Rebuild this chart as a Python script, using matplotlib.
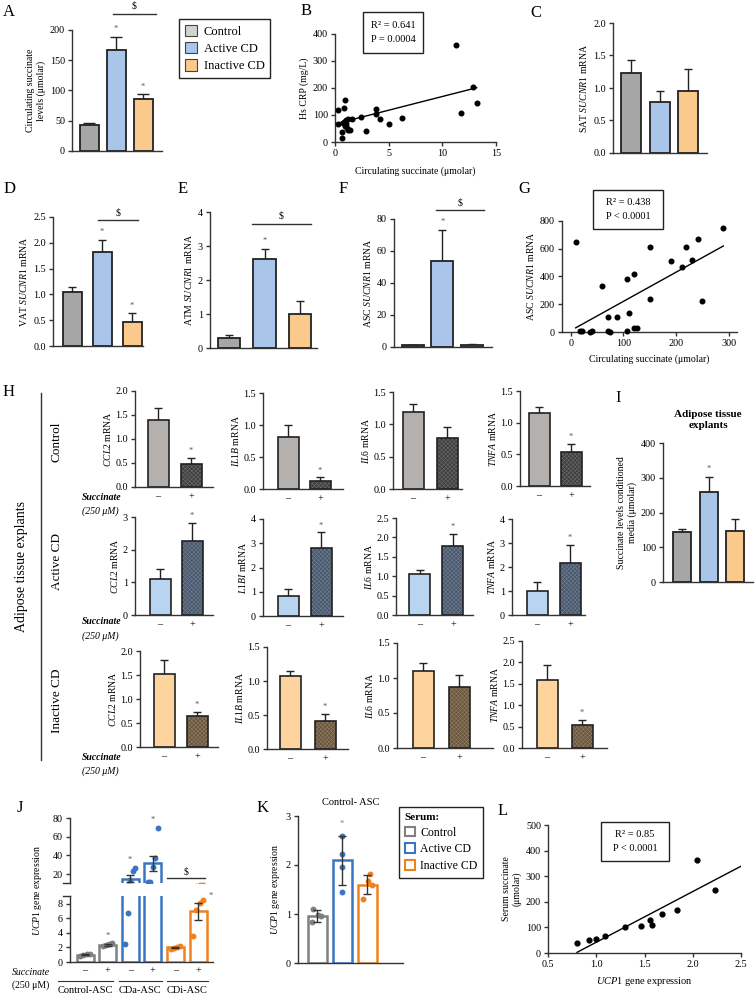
import numpy as np
import matplotlib
matplotlib.use('Agg')
import matplotlib.pyplot as plt
from matplotlib.patches import Patch, Rectangle
from matplotlib.lines import Line2D
from matplotlib.ticker import FormatStrFormatter

plt.rcParams['font.family'] = ['Liberation Serif', 'DejaVu Serif']
plt.rcParams['mathtext.fontset'] = 'custom'
plt.rcParams['mathtext.rm'] = 'Liberation Serif'
plt.rcParams['mathtext.it'] = 'Liberation Serif:italic'
plt.rcParams['mathtext.bf'] = 'Liberation Serif:bold'
plt.rcParams['font.size'] = 7
plt.rcParams['hatch.linewidth'] = 0.35
plt.rcParams['axes.linewidth'] = 1.0
plt.rcParams['axes.edgecolor'] = '#333333'

# ---------------- data ----------------
groups = ['Control', 'Active CD', 'Inactive CD']

a_mean = [43, 167, 86]
a_err = [3, 22, 8]

b_x = [0.3, 0.3, 0.65, 0.65, 0.7, 0.8, 0.9, 0.93, 1.0, 1.1, 1.2, 1.25, 1.4, 1.55,
       0.8, 1.0, 2.4, 2.9, 3.8, 3.8, 4.2, 5.0, 6.2, 11.7, 11.3, 12.85, 13.25]
b_y = [119, 68, 37, 16, 71, 126, 155, 58, 80, 50, 87, 43, 46, 84,
       75, 65, 93, 41, 121, 104, 85, 68, 89, 108, 359, 204, 145]
b_fit = [10.15, 67]          # slope, intercept
b_fit_range = [0.3, 13.2]

c_mean = [1.23, 0.78, 0.95]
c_err = [0.20, 0.17, 0.34]

d_mean = [1.05, 1.82, 0.46]
d_err = [0.09, 0.23, 0.17]

e_mean = [0.28, 2.62, 1.00]
e_err = [0.10, 0.28, 0.38]

f_mean = [1.0, 54, 1.5]
f_err = [0.5, 19, 0.5]

g_x = [9, 17, 21, 36, 40, 60, 70, 71, 74, 87, 107, 107, 111, 120, 120, 126,
       150, 150, 190, 211, 219, 230, 242, 250, 289]
g_y = [650, 5, 8, 3, 5, 330, 110, 5, 3, 105, 385, 8, 140, 420, 30, 30,
       615, 240, 510, 470, 610, 520, 670, 225, 750]
g_fit = [2.1, 11]
g_fit_range = [9, 290]

h_rows = ['Control', 'Active CD', 'Inactive CD']
h_genes = [['CCL2', 'IL1B', 'IL6', 'TNFA'],
           ['CCL2', 'L1BI', 'IL6', 'TNFA'],
           ['CCL2', 'IL1B', 'IL6', 'TNFA']]
h_mean = [[[1.40, 0.48], [0.82, 0.13], [1.19, 0.79], [1.15, 0.54]],
          [[1.10, 2.27], [0.82, 2.82], [1.05, 1.78], [1.00, 2.18]],
          [[1.52, 0.64], [1.07, 0.41], [1.10, 0.87], [1.60, 0.53]]]
h_err = [[[0.25, 0.13], [0.18, 0.05], [0.12, 0.17], [0.10, 0.13]],
         [[0.32, 0.55], [0.30, 0.63], [0.11, 0.32], [0.37, 0.74]],
         [[0.30, 0.09], [0.08, 0.10], [0.11, 0.18], [0.33, 0.13]]]
h_star = [[True, True, False, True],
          [True, True, True, True],
          [True, True, False, True]]
h_ymax = [[2.0, 1.5, 1.5, 1.5], [3, 4, 2.5, 4], [2.0, 1.5, 1.5, 2.5]]
h_ystep = [[0.5, 0.5, 0.5, 0.5], [1, 1, 0.5, 1], [0.5, 0.5, 0.5, 0.5]]
succ_labels = ['\u2013', '+']

i_mean = [143, 258, 148]
i_err = [9, 45, 32]

j_labels = ['\u2013', '+', '\u2013', '+', '\u2013', '+']
j_groups = ['Control-ASC', 'CDa-ASC', 'CDi-ASC']
j_points = [[0.85, 1.0, 1.05, 1.15],
            [2.2, 2.35, 2.5, 2.6],
            [2.5, 6.7, 14, 23, 26],
            [11, 11, 27, 37, 69],
            [1.8, 1.9, 2.0, 2.2],
            [3.6, 7.2, 8.2, 8.6]]
j_mean = [1.0, 2.35, 15.2, 31.5, 2.0, 7.0]
j_err = [0.1, 0.15, 3.6, 8.0, 0.12, 1.2]

k_points = [[0.83, 0.95, 0.98, 1.1],
            [1.45, 1.95, 2.22, 2.6],
            [1.3, 1.6, 1.68, 1.82]]
k_mean = [0.96, 2.1, 1.6]
k_err = [0.12, 0.5, 0.2]

l_x = [0.805, 0.93, 0.996, 1.09, 1.30, 1.46, 1.56, 1.575, 1.685, 1.84, 2.04, 2.23]
l_y = [38, 50, 54, 68, 100, 107, 128, 110, 154, 167, 362, 248]
l_fit = [198, -156]
l_fit_range = [0.8, 2.5]

# ---------------- style ----------------
fill3 = ['#a6a6a6', '#a9c5ea', '#fbc98b']
legend3 = ['#d4d4cc', '#a9c5ea', '#fbc98b']
h_light = ['#b3b0ad', '#b8d4f0', '#fdd39e']
h_dark = ['#404040', '#4a586b', '#6a573f']
h_hatch = ['#6e6e6e', '#74839a', '#95806a']
open3 = ['#808080', '#3a75c4', '#f0821e']
EDGE = '#222222'

W, H = 755, 997
fig = plt.figure(figsize=(W / 100, H / 100), dpi=100)


def box(l, t, r, b):
    ax = fig.add_axes([l / W, 1 - b / H, (r - l) / W, (b - t) / H])
    ax.spines['top'].set_visible(False)
    ax.spines['right'].set_visible(False)
    ax.tick_params(length=3, width=1, pad=2, labelsize=7.3, color='#333333')
    return ax


def ftext(x, y, s, **kw):
    fig.text(x / W, 1 - y / H, s, **kw)


def bar_ax(l, t, r, b, c0, c1, bw, n):
    ax = box(l, t, r, b)
    step = (c1 - c0) / (n - 1)
    ax.set_xlim(-(c0 - l) / step, n - 1 + (r - c1) / step)
    ax.set_xticks([])
    return ax, bw / step


def solid_bars(ax, means, errs, colors, width, stars, ymax, cap=3):
    x = np.arange(len(means))
    ax.errorbar(x, means, yerr=[np.zeros(len(errs)), errs], fmt='none',
                ecolor=EDGE, elinewidth=1, capsize=cap, capthick=1, zorder=1)
    ax.bar(x, means, width, color=colors, edgecolor=EDGE, linewidth=1.3, zorder=2)
    for i in stars:
        ax.text(x[i], means[i] + errs[i] + ymax * 0.03, '*', ha='center',
                va='bottom', fontsize=6, color='#555555')
    ax.set_ylim(0, ymax)


def stats_box(l, t, r, b, txt):
    fig.add_artist(Rectangle((l / W, 1 - b / H), (r - l) / W, (b - t) / H,
                             transform=fig.transFigure, fill=False, ec=EDGE, lw=1))
    ftext((l + r) / 2, (t + b) / 2, txt, ha='center', va='center', fontsize=7.5,
          linespacing=1.7)


def letter(x, y, s):
    ftext(x, y, s, fontsize=12, va='center', ha='left')


def bracket(ax, x0, x1, y, ytxt):
    ax.plot([x0, x1], [y, y], color='#333333', lw=1, clip_on=False)
    ax.text((x0 + x1) / 2, ytxt, '$', ha='center', va='bottom', fontsize=7,
            clip_on=False)


# ---------------- A ----------------
ax, w = bar_ax(72, 30, 162, 151, 89, 143, 19, 3)
solid_bars(ax, a_mean, a_err, fill3, w, [1, 2], 200, cap=4)
ax.set_yticks(np.arange(0, 201, 50))
ax.set_ylabel('Circulating succinate\nlevels (\u03bcmolar)', labelpad=3)
bracket(ax, 0.89, 2.48, 226, 232)
letter(3, 12, 'A')
fig.legend([Patch(facecolor=c, edgecolor='#444444', lw=0.8) for c in legend3], groups,
           loc='upper left', bbox_to_anchor=(173 / W, 1 - 13 / H), fontsize=9,
           frameon=True, fancybox=False, edgecolor=EDGE, framealpha=1,
           handlelength=1.0, handleheight=1.0, handletextpad=0.5,
           labelspacing=0.35, borderpad=0.45).get_frame().set_linewidth(1)

# ---------------- B ----------------
ax = box(335, 34, 496, 142)
ax.scatter(b_x, b_y, s=11, color='black', zorder=3, clip_on=False)
bx = np.array(b_fit_range)
ax.plot(bx, b_fit[0] * bx + b_fit[1], color='black', lw=1)
ax.set_xlim(0, 15)
ax.set_ylim(0, 400)
ax.set_xticks([0, 5, 10, 15])
ax.set_yticks(np.arange(0, 401, 100))
ax.set_xlabel('Circulating succinate (\u03bcmolar)', labelpad=6)
ax.set_ylabel('Hs CRP (mg/L)', labelpad=3)
stats_box(363, 12, 423, 53, 'R\u00b2 = 0.641\nP = 0.0004')
letter(301, 11, 'B')

# ---------------- C ----------------
ax, w = bar_ax(613, 23, 707, 153, 631, 688, 20, 3)
solid_bars(ax, c_mean, c_err, fill3, w, [], 2.0)
ax.set_yticks(np.arange(0, 2.01, 0.5))
ax.yaxis.set_major_formatter(FormatStrFormatter('%.1f'))
ax.set_ylabel(r'SAT $\mathit{SUCNR1}$ mRNA', labelpad=3)
letter(530, 13, 'C')

# ---------------- D ----------------
ax, w = bar_ax(53, 217, 143, 346, 72, 132, 19, 3)
solid_bars(ax, d_mean, d_err, fill3, w, [1, 2], 2.5)
ax.set_yticks(np.arange(0, 2.51, 0.5))
ax.yaxis.set_major_formatter(FormatStrFormatter('%.1f'))
ax.set_ylabel(r'VAT $\mathit{SUCNR1}$ mRNA', labelpad=3)
bracket(ax, 0.85, 2.2, 2.44, 2.5)
letter(4, 189, 'D')

# ---------------- E ----------------
ax, w = bar_ax(210, 212, 317, 348, 229, 300, 22, 3)
solid_bars(ax, e_mean, e_err, fill3, w, [1], 4)
ax.set_yticks(np.arange(0, 5, 1))
ax.set_ylabel(r'ATM $\mathit{SUCNR1}$ mRNA', labelpad=3)
bracket(ax, 0.65, 2.3, 3.65, 3.75)
letter(178, 189, 'E')

# ---------------- F ----------------
ax, w = bar_ax(394, 219, 492, 347, 413, 472, 22, 3)
solid_bars(ax, f_mean, f_err, fill3, w, [1], 80)
ax.set_yticks(np.arange(0, 81, 20))
ax.set_ylabel(r'ASC $\mathit{SUCNR1}$ mRNA', labelpad=3)
bracket(ax, 0.78, 2.4, 85.6, 87)
letter(339, 189, 'F')

# ---------------- G ----------------
ax = box(562, 221, 737, 332)
ax.scatter(g_x, g_y, s=11, color='black', zorder=3, clip_on=False)
gx = np.array(g_fit_range)
ax.plot(gx, g_fit[0] * gx + g_fit[1], color='black', lw=1)
ax.set_xlim(-17, 316)
ax.set_ylim(0, 800)
ax.set_xticks([0, 100, 200, 300])
ax.set_yticks(np.arange(0, 801, 200))
ax.set_xlabel('Circulating succinate (\u03bcmolar)', labelpad=5)
ax.set_ylabel(r'ASC $\mathit{SUCNR1}$ mRNA', labelpad=3)
stats_box(593, 190, 663, 229, 'R\u00b2 = 0.438\nP < 0.0001')
letter(518, 189, 'G')

# ---------------- H ----------------
h_boxes = [[(135, 391, 213, 487, 158, 191), (263, 393, 343, 489, 288, 320),
            (393, 392, 462, 489, 413, 447), (520, 391, 590, 486, 539, 571)],
           [(135, 517, 213, 615, 160, 192), (263, 519, 343, 616, 288, 321),
            (396, 518, 473, 615, 420, 453), (512, 519, 585, 615, 537, 570)],
           [(140, 651, 218, 747, 164, 197), (267, 647, 348, 749, 290, 325),
            (397, 643, 493, 748, 423, 459), (522, 641, 607, 748, 547, 582)]]
for r in range(3):
    for g in range(4):
        l, t, rr, b, c0, c1 = h_boxes[r][g]
        ax, w = bar_ax(l, t, rr, b, c0, c1, 21, 2)
        m = h_mean[r][g]
        e = h_err[r][g]
        ymax = h_ymax[r][g]
        ax.errorbar([0, 1], m, yerr=[[0, 0], e], fmt='none', ecolor=EDGE,
                    elinewidth=1, capsize=3, capthick=1, zorder=1)
        ax.bar(0, m[0], w, color=h_light[r], edgecolor=EDGE, lw=1.2, zorder=2)
        ax.bar(1, m[1], w, color=h_dark[r], edgecolor=h_hatch[r],
               hatch='xxxxxxxx', lw=0, zorder=2)
        ax.bar(1, m[1], w, fill=False, edgecolor=EDGE, lw=1.2, zorder=3)
        if h_star[r][g]:
            ax.text(1, m[1] + e[1] + ymax * 0.03, '*', ha='center', va='bottom',
                    fontsize=6, color='#555555')
        ax.set_ylim(0, ymax)
        ax.set_yticks(np.arange(0, ymax + 0.001, h_ystep[r][g]))
        if h_ystep[r][g] < 1:
            ax.yaxis.set_major_formatter(FormatStrFormatter('%.1f'))
        ax.set_xticks([0, 1])
        ax.set_xticklabels(succ_labels)
        ax.tick_params(axis='x', length=0, pad=4)
        ax.set_ylabel(r'$\mathit{%s}$ mRNA' % h_genes[r][g], labelpad=2)

for y0 in (497, 622, 757):
    ftext(82, y0, 'Succinate', style='italic', fontweight='bold', fontsize=7,
          va='center')
    ftext(82, y0 + 14, '(250 \u03bcM)', style='italic', fontsize=7, va='center')

for lab, yc in zip(h_rows, (442, 562, 701)):
    ftext(57, yc, lab, rotation=90, fontsize=9.5, ha='center', va='center')
ftext(22, 566, 'Adipose tissue explants', rotation=90, fontsize=10,
      ha='center', va='center')
fig.add_artist(Line2D([41 / W, 41 / W], [1 - 393 / H, 1 - 760 / H],
                      color='#333333', lw=1))
letter(3, 392, 'H')

# ---------------- I ----------------
ax, w = bar_ax(663, 443, 753, 582, 682, 735, 18, 3)
solid_bars(ax, i_mean, i_err, fill3, w, [1], 400)
ax.set_yticks(np.arange(0, 401, 100))
ax.set_ylabel('Succinate levels conditioned\nmedia (\u03bcmolar)', labelpad=3)
ftext(708, 420, 'Adipose tissue\nexplants', ha='center', va='center',
      fontsize=8, fontweight='bold', linespacing=1.2)
letter(615, 398, 'I')

# ---------------- J ----------------
step = (198 - 85) / 5
jxl = (-(85 - 70) / step, 5 + (213 - 198) / step)
jw = 17 / step
jt = box(70, 818, 213, 883)
jb = box(70, 896, 213, 962)
offs = {4: [-0.2, -0.07, 0.07, 0.2], 5: [-0.22, -0.11, 0.0, 0.11, 0.22]}
jx = np.arange(6)
for ax in (jt, jb):
    ax.bar(jx, j_mean, jw, fill=False, edgecolor=[open3[i // 2] for i in range(6)],
           lw=1.8, zorder=2)
    ax.errorbar(jx, j_mean, yerr=j_err, fmt='none', ecolor='#333333',
                elinewidth=1, capsize=3, capthick=1, zorder=4)
    for i, pts in enumerate(j_points):
        ax.scatter(i + np.array(offs[len(pts)]), pts, s=18, color=open3[i // 2],
                   zorder=3, lw=0)
    ax.set_xlim(*jxl)
jt.set_ylim(10.4, 80)
jt.set_yticks([20, 40, 60, 80])
jt.spines['bottom'].set_visible(False)
jt.set_xticks([])
jt.plot([-0.05, 0], [0, 0], transform=jt.transAxes, color='#333333', lw=1,
        clip_on=False)
jb.set_ylim(0, 9.1)
jb.set_yticks([0, 2, 4, 6, 8])
jb.plot([-0.05, 0], [1, 1], transform=jb.transAxes, color='#333333', lw=1,
        clip_on=False)
jb.set_xticks(jx)
jb.set_xticklabels(j_labels)
jb.tick_params(axis='x', length=0, pad=3)
jb.text(1, max(j_points[1]) + 0.4, '*', ha='center', va='bottom', fontsize=6,
        color='#555555')
for i in (2, 3):
    jt.text(i, max(j_points[i]) + 5, '*', ha='center', va='bottom', fontsize=6,
            color='#555555')
jb.text(5.55, 8.6, '*', ha='center', va='bottom', fontsize=6, color='#555555')
jt.plot([3.63, 5.3], [15.5, 15.5], color='#333333', lw=1)
jt.text(4.45, 17, '$', ha='center', va='bottom', fontsize=7)
tr = jb.get_xaxis_transform()
for (x0, x1), lab in zip([(-1.19, 1.24), (1.5, 3.4), (3.63, 5.44)], j_groups):
    jb.plot([x0, x1], [-0.29, -0.29], transform=tr, color='#333333', lw=0.8,
            clip_on=False)
    jb.text((x0 + x1) / 2, -0.36, lab, transform=tr, ha='center', va='top',
            fontsize=7.5)
ftext(12, 972, 'Succinate', style='italic', fontsize=7, va='center')
ftext(12, 985, '(250 \u03bcM)', fontsize=7, va='center')
ftext(38, 890, r'$\mathit{UCP1}$ gene expression', rotation=90, ha='center',
      va='center', fontsize=7)
letter(17, 808, 'J')

# ---------------- K ----------------
ax, w = bar_ax(298, 816, 403, 963, 317, 367, 19, 3)
kx = np.arange(3)
ax.bar(kx, k_mean, w, fill=False, edgecolor=open3, lw=1.8, zorder=2)
ax.errorbar(kx, k_mean, yerr=k_err, fmt='none', ecolor='#333333', elinewidth=1,
            capsize=3, capthick=1, zorder=4)
koffs = [[-0.2, 0.15, 0.05, -0.15], [0, 0, 0, 0], [-0.15, 0.2, 0.05, 0.1]]
for i, pts in enumerate(k_points):
    ax.scatter(i + np.array(koffs[i]), pts, s=18, color=open3[i], zorder=3, lw=0)
ax.text(1, max(k_points[1]) + 0.15, '*', ha='center', va='bottom', fontsize=6,
        color='#777777')
ax.set_ylim(0, 3)
ax.set_yticks([0, 1, 2, 3])
ax.set_ylabel(r'$\mathit{UCP1}$ gene expression', labelpad=3)
ftext(351, 802, 'Control- ASC', ha='center', va='center', fontsize=7.5)
kleg = fig.legend([Patch(facecolor='white', edgecolor=c, lw=1.5) for c in open3],
                  groups, title='Serum:', loc='upper left',
                  bbox_to_anchor=(393 / W, 1 - 801 / H), fontsize=8.5,
                  title_fontproperties={'size': 8, 'weight': 'bold'},
                  alignment='left', frameon=True, fancybox=False,
                  edgecolor=EDGE, framealpha=1, handlelength=0.9,
                  handleheight=0.9, handletextpad=0.4, labelspacing=0.4,
                  borderpad=0.5)
kleg.get_frame().set_linewidth(1)
letter(257, 808, 'K')

# ---------------- L ----------------
ax = box(548, 825, 741, 953)
ax.scatter(l_x, l_y, s=12, color='black', zorder=3)
lx = np.array(l_fit_range)
ax.plot(lx, l_fit[0] * lx + l_fit[1], color='black', lw=1)
ax.set_xlim(0.5, 2.5)
ax.set_ylim(0, 500)
ax.set_xticks(np.arange(0.5, 2.51, 0.5))
ax.xaxis.set_major_formatter(FormatStrFormatter('%.1f'))
ax.set_yticks(np.arange(0, 501, 100))
ax.set_xlabel(r'$\mathit{UCP1}$ gene expression', labelpad=4, fontsize=7.5)
ax.set_ylabel('Serum succinate\n(\u03bcmolar)', labelpad=3)
stats_box(601, 822, 669, 861, 'R\u00b2 = 0.85\nP < 0.0001')
letter(498, 811, 'L')

fig.savefig('out.png', dpi=100)
